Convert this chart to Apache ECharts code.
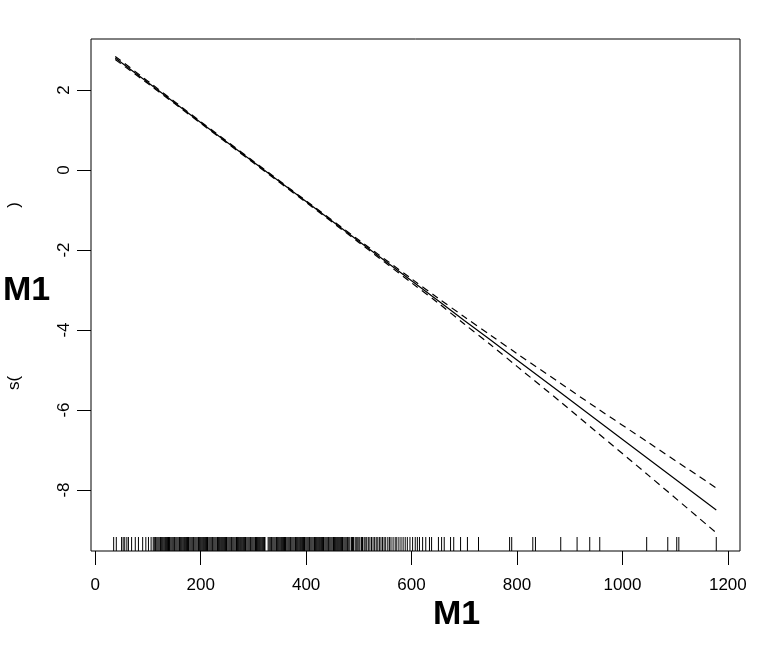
<!DOCTYPE html>
<html>
<head>
<meta charset="utf-8">
<script src="https://cdn.jsdelivr.net/npm/echarts@6/dist/echarts.min.js"></script>
<style>html,body{margin:0;padding:0;background:#fff}#c{width:759px;height:653px}</style>
</head>
<body>
<div id="c"></div>
<script>
const xTicks = [0, 200, 400, 600, 800, 1000, 1200];
const yTicks = [-8, -6, -4, -2, 0, 2];
const xs =    [38, 100, 200, 300, 400, 500, 600, 650, 700, 750, 800, 881, 950, 1050, 1178];
const fit =   [2.80, 2.19, 1.19, 0.20, -0.79, -1.78, -2.77, -3.26, -3.76, -4.25, -4.75, -5.55, -6.24, -7.23, -8.50];
const upper = [2.84, 2.22, 1.21, 0.22, -0.77, -1.75, -2.72, -3.20, -3.67, -4.13, -4.59, -5.32, -5.94, -6.82, -7.95];
const lower = [2.76, 2.16, 1.17, 0.18, -0.81, -1.81, -2.82, -3.32, -3.85, -4.37, -4.91, -5.78, -6.54, -7.64, -9.07];
const rug = [35,40,50,53,56,60,63,69,76,82,90,96,101,106,
110,112,114,115,117,119,121,123,124,126,128,130,132,133,135,137,139,141,142,144,146,148,150,151,153,155,157,159,160,162,164,166,168,169,171,173,175,177,178,180,182,184,186,187,189,191,193,195,196,198,200,202,204,205,207,209,211,213,214,216,218,220,222,223,225,227,229,231,232,234,236,238,240,241,243,245,247,249,250,252,254,256,258,259,261,263,265,267,268,270,272,274,276,277,279,281,283,285,286,288,290,292,294,295,297,299,301,303,304,306,308,310,312,313,315,317,319,321,322,
328,330,332,334,335,337,339,341,343,344,346,348,350,352,353,355,357,359,361,362,364,366,368,370,371,373,375,377,379,380,382,384,386,388,389,391,393,395,397,398,400,402,404,406,407,409,411,413,415,416,418,420,422,424,425,427,429,431,433,434,436,438,440,442,443,445,447,449,451,452,454,456,458,460,461,463,465,467,469,470,472,474,476,478,479,481,483,486,488,490,493,495,497,500,502,505,507,510,512,515,518,521,524,527,530,533,536,539,542,545,548,551,555,558,561,565,569,572,576,
580,584,588,592,597,602,607,611,615,621,627,634,638,651,657,662,674,680,693,706,727,786,790,830,835,883,914,938,957,1046,1086,1103,1107,1178];

const X_MIN = -8, X_MAX = 1223, Y_MIN = -9.525, Y_MAX = 3.275;
const font = 'Liberation Sans, Arial, Helvetica, sans-serif';

const chart = echarts.init(document.getElementById('c'), null, {renderer: 'canvas'});
chart.setOption({
  animation: false,
  backgroundColor: '#fff',
  grid: {left: 91, right: 19, top: 39, bottom: 102, show: true, borderColor: '#000', borderWidth: 1, backgroundColor: 'transparent'},
  xAxis: {
    type: 'value', min: X_MIN, max: X_MAX,
    axisLine: {show: false, onZero: false},
    splitLine: {show: false},
    axisTick: {show: true, inside: false, length: 14, customValues: xTicks, lineStyle: {color: '#000', width: 1}},
    axisLabel: {show: true, margin: 26, customValues: xTicks, color: '#000', fontSize: 17, fontFamily: font, formatter: v => String(v)}
  },
  yAxis: {
    type: 'value', min: Y_MIN, max: Y_MAX,
    axisLine: {show: false, onZero: false},
    splitLine: {show: false},
    axisTick: {show: true, inside: false, length: 14, customValues: yTicks, lineStyle: {color: '#000', width: 1}},
    axisLabel: {show: true, margin: 27, rotate: 90, customValues: yTicks, color: '#000', fontSize: 17, fontFamily: font, verticalAlign: 'middle', align: 'center', formatter: v => String(v)}
  },
  graphic: [
    {type: 'text', left: 433, top: 598, style: {text: 'M1', fill: '#000', font: 'bold 34px ' + font}},
    {type: 'text', left: 3, top: 274, style: {text: 'M1', fill: '#000', font: 'bold 34px ' + font}},
    {type: 'text', x: 14, y: 383, rotation: Math.PI / 2, style: {text: 's(', fill: '#000', font: '17px ' + font, align: 'center', verticalAlign: 'middle'}},
    {type: 'text', x: 14, y: 205, rotation: Math.PI / 2, style: {text: ')', fill: '#000', font: '17px ' + font, align: 'center', verticalAlign: 'middle'}}
  ],
  series: [
    {type: 'line', data: xs.map((x, i) => [x, fit[i]]), symbol: 'none', lineStyle: {color: '#000', width: 1.2}, z: 3},
    {type: 'line', data: xs.map((x, i) => [x, upper[i]]), symbol: 'none', smooth: 0.3, lineStyle: {color: '#000', width: 1.2, type: [7, 5]}, z: 3},
    {type: 'line', data: xs.map((x, i) => [x, lower[i]]), symbol: 'none', smooth: 0.3, lineStyle: {color: '#000', width: 1.2, type: [7, 5]}, z: 3},
    {
      type: 'custom',
      data: rug.map(v => [v]),
      renderItem: function (params, api) {
        const p = api.coord([api.value(0), Y_MIN]);
        return {type: 'line', shape: {x1: p[0], y1: p[1], x2: p[0], y2: p[1] - 14}, style: {stroke: '#000', lineWidth: 1}};
      },
      encode: {x: 0},
      z: 2
    }
  ]
});
</script>
</body>
</html>
